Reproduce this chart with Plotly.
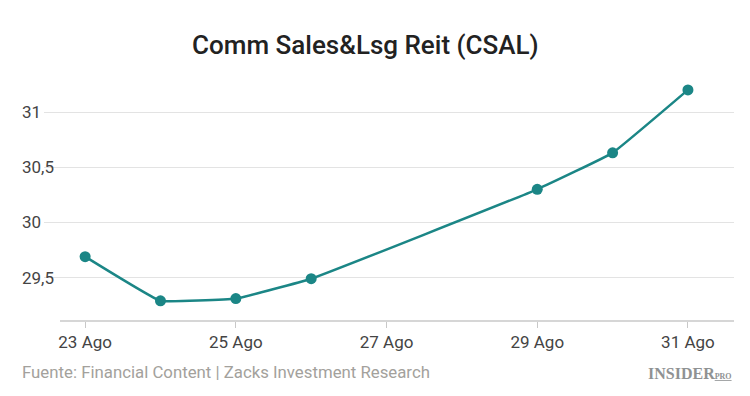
import plotly.graph_objects as go

dates = ["2023-08-23", "2023-08-24", "2023-08-25", "2023-08-26",
         "2023-08-29", "2023-08-30", "2023-08-31"]
prices = [29.69, 29.29, 29.31, 29.49, 30.30, 30.63, 31.20]

x_tick_vals = ["2023-08-23", "2023-08-25", "2023-08-27", "2023-08-29", "2023-08-31"]
x_tick_text = ["23 Ago", "25 Ago", "27 Ago", "29 Ago", "31 Ago"]
y_tick_vals = [29.5, 30, 30.5, 31]
y_tick_text = ["29,5", "30", "30,5", "31"]

title = "Comm Sales&Lsg Reit (CSAL)"
source = "Fuente: Financial Content | Zacks Investment Research"

teal = "#1b8686"

fig = go.Figure()
fig.add_trace(go.Scatter(
    x=dates, y=prices, mode="lines+markers",
    line=dict(color=teal, width=2.5, shape="spline", smoothing=0.25),
    marker=dict(color=teal, size=11),
    hoverinfo="x+y", showlegend=False,
))

annotations = []
for v, t in zip(y_tick_vals, y_tick_text):
    annotations.append(dict(
        x=-0.0348, xref="paper", y=v, yref="y", text=t, showarrow=False,
        xanchor="left", yanchor="middle",
        font=dict(family="Roboto", size=17, color="#444444"),
    ))

annotations.append(dict(
    x=-0.0348, xref="paper", y=-0.211, yref="paper", text=source, showarrow=False,
    xanchor="left", yanchor="middle",
    font=dict(family="Roboto", size=16.8, color="#a3a19c"),
))

annotations.append(dict(
    x=1.0, xref="paper", y=-0.214, yref="paper",
    text="<b>INSIDER<span style='font-size:8px'><u>PRO</u></span></b>",
    showarrow=False, xanchor="right", yanchor="middle",
    font=dict(family="Liberation Serif", size=16, color="#8f9293"),
))

fig.update_layout(
    width=742, height=388,
    margin=dict(l=36, r=16, t=70, b=75),
    paper_bgcolor="white", plot_bgcolor="white",
    title=dict(text=title, x=0.4816, xanchor="center", y=0.905, yanchor="middle",
               font=dict(family="Roboto", size=26, color="#222222", weight=500)),
    xaxis=dict(
        type="date",
        range=["2023-08-22 10:54", "2023-08-31 14:40"],
        tickvals=x_tick_vals, ticktext=x_tick_text,
        ticks="outside", ticklen=6, tickcolor="#c8c8c8", tickwidth=1,
        showgrid=False, showline=False, zeroline=False,
        tickfont=dict(family="Roboto", size=17, color="#444444"),
        fixedrange=True,
    ),
    yaxis=dict(
        range=[29.107, 31.308],
        tickvals=y_tick_vals, showticklabels=False,
        showgrid=True, gridcolor="#e3e3e3", gridwidth=1,
        zeroline=False, showline=False, fixedrange=True,
    ),
    shapes=[dict(type="line", xref="paper", yref="paper", x0=0.0232, x1=1,
                 y0=0, y1=0, line=dict(color="#c8c8c8", width=1.5))],
    annotations=annotations,
)

fig.write_html("out.html")
